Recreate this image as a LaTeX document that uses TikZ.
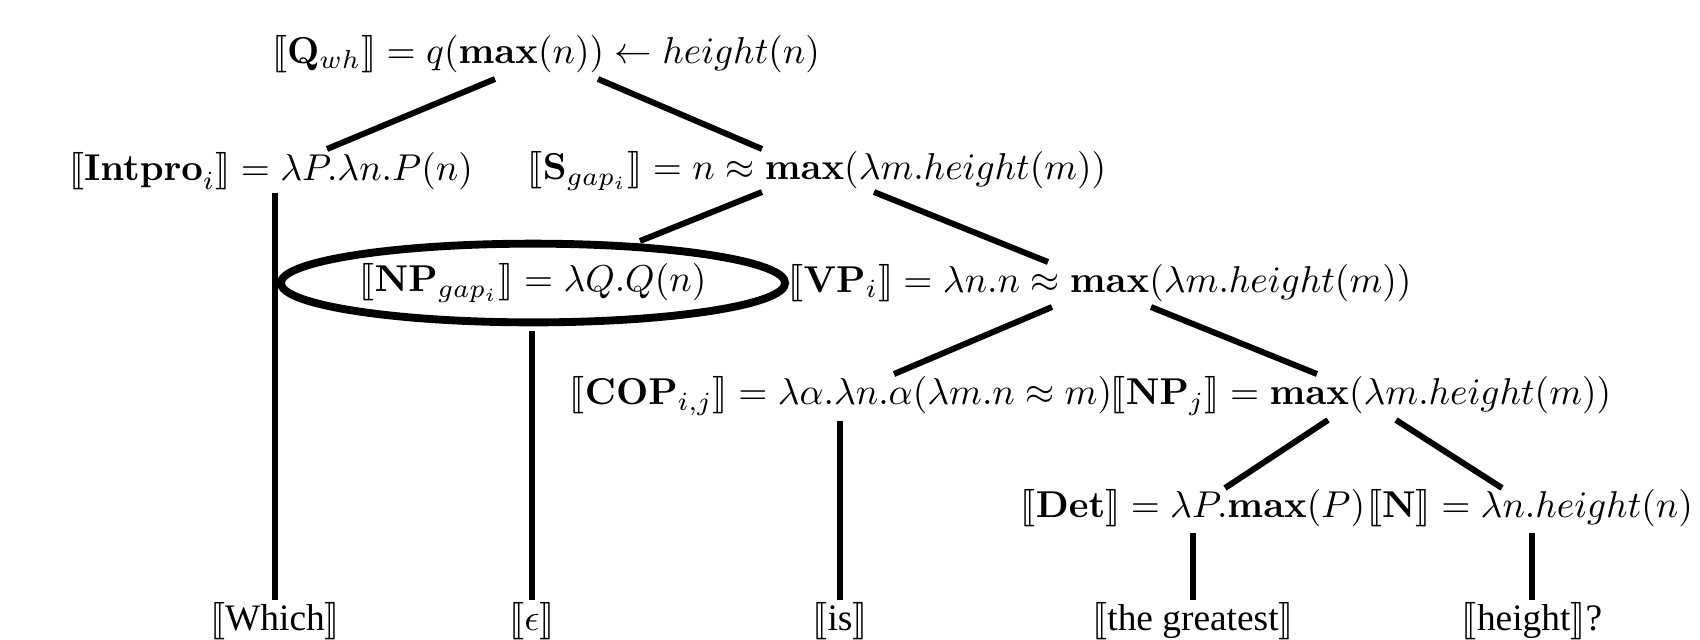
\documentclass[tikz,border=0pt]{standalone}
\usepackage[no-math]{fontspec}
\setmainfont{Liberation Serif}
\usepackage{amsmath}
\usepackage{stmaryrd}
\usetikzlibrary{calc}
\newcommand{\den}[1]{\llbracket #1\rrbracket}
\tikzset{
  sem/.style={inner sep=0pt, anchor=center},
  leaf/.style={inner sep=0pt, anchor=center},
  branch/.style={line width=1.6pt},
  gapring/.style={line width=2.1pt},
}
\begin{document}
\begin{tikzpicture}[x=0.0094cm, y=-0.0094cm]
  \useasboundingbox (0,0) rectangle (1700,639);
  % semantic nodes, one row per level
  \node[sem] (root)   at (546,54)  {$\den{\mathbf{Q}_{wh}} = q(\mathbf{max}(n)) \leftarrow height(n)$};
  \node[sem] (intpro) at (271,171) {$\den{\mathbf{Intpro}_i} = \lambda P.\lambda n.P(n)$};
  \node[sem] (sgap)   at (817,171) {$\den{\mathbf{S}_{gap_i}} = n \approx \mathbf{max}(\lambda m.height(m))$};
  \node[sem] (npgap)  at (533,283) {$\den{\mathbf{NP}_{gap_i}} = \lambda Q.Q(n)$};
  \node[sem] (vp)     at (1100,283) {$\den{\mathbf{VP}_i} = \lambda n.n \approx \mathbf{max}(\lambda m.height(m))$};
  \node[sem] (cop)    at (841,396) {$\den{\mathbf{COP}_{i,j}} = \lambda\alpha.\lambda n.\alpha(\lambda m.n \approx m)$};
  \node[sem] (npj)    at (1361,396) {$\den{\mathbf{NP}_j} = \mathbf{max}(\lambda m.height(m))$};
  \node[sem] (det)    at (1193,508) {$\den{\mathbf{Det}} = \lambda P.\mathbf{max}(P)$};
  \node[sem] (noun)   at (1530,508) {$\den{\mathbf{N}} = \lambda n.height(n)$};
  % words
  \node[leaf] (which) at (275,621)  {$\den{\text{Which}}$};
  \node[leaf] (eps)   at (532,621)  {$\den{\epsilon}$};
  \node[leaf] (is)    at (840,621)  {$\den{\text{is}}$};
  \node[leaf] (great) at (1193,621) {$\den{\text{the greatest}}$};
  \node[leaf] (hgt)   at (1532,621) {$\den{\text{height}}$?};
  % the gap is ringed
  \draw[gapring] (npgap.center) ellipse [x radius=2.37cm, y radius=0.37cm];
  % branches
  \draw[branch] ($(root)+(-51,25)$) -- ($(intpro)+(56,-22)$);
  \draw[branch] ($(root)+(52,25)$) -- ($(sgap)+(-55,-22)$);
  \draw[branch] ($(sgap)+(-55,21)$) -- ($(npgap)+(107,-42)$);
  \draw[branch] ($(sgap)+(57,21)$) -- ($(vp)+(-52,-21)$);
  \draw[branch] ($(vp)+(-48,24)$) -- ($(cop)+(53,-22)$);
  \draw[branch] ($(vp)+(51,24)$) -- ($(npj)+(-44,-22)$);
  \draw[branch] ($(npj)+(-33,24)$) -- ($(det)+(32,-20)$);
  \draw[branch] ($(npj)+(35,24)$) -- ($(noun)+(-28,-20)$);
  % unary branches down to the words
  \draw[branch] ($(intpro)+(4,22)$) -- ($(which)+(0,-21)$);
  \draw[branch] ($(npgap)+(-1,48)$) -- ($(eps)+(0,-21)$);
  \draw[branch] ($(cop)+(-1,25)$) -- ($(is)+(0,-21)$);
  \draw[branch] ($(det)+(0,25)$) -- ($(great)+(0,-21)$);
  \draw[branch] ($(noun)+(2,25)$) -- ($(hgt)+(0,-21)$);
\end{tikzpicture}
\end{document}
